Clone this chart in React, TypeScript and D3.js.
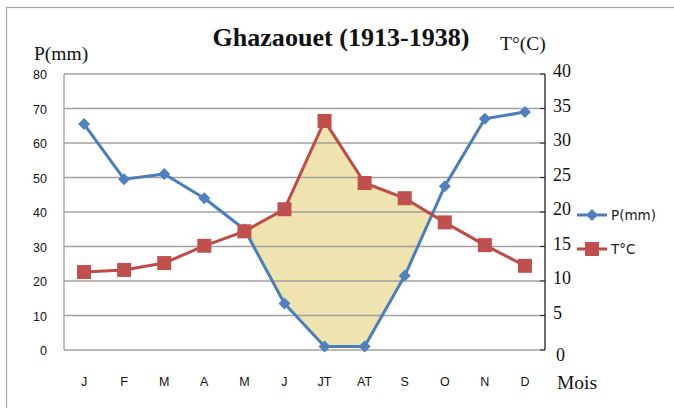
import React from "react";
import * as d3 from "d3";

const months = ["J", "F", "M", "A", "M", "J", "JT", "AT", "S", "O", "N", "D"];
const precip = [65.5, 49.5, 51, 44, 35, 13.5, 1, 1, 21.5, 47.5, 67, 69];
const temp = [11.3, 11.6, 12.6, 15.1, 17.2, 20.4, 33.2, 24.2, 22.0, 18.5, 15.2, 12.2];
const pTicks = [0, 10, 20, 30, 40, 50, 60, 70, 80];
const tTicks = [0, 5, 10, 15, 20, 25, 30, 35, 40];

const W = 674, H = 408;
const L = 64, R = 545, T = 74, B = 350;

export default function App() {
  const x = d3.scaleBand<number>().domain(d3.range(months.length)).range([L, R]);
  const cx = (i: number) => (x(i) as number) + x.bandwidth() / 2;
  const yP = d3.scaleLinear().domain([0, 80]).range([B, T]);
  const yT = d3.scaleLinear().domain([0, 40]).range([B, T]);

  // dry-period polygon where T curve (on P scale) is above P curve
  const polys: [number, number][][] = [];
  let upper: [number, number][] = [];
  let lower: [number, number][] = [];
  const diff = (i: number) => yP(precip[i]) - yT(temp[i]);
  for (let i = 0; i < months.length; i++) {
    const d = diff(i);
    if (i > 0) {
      const dp = diff(i - 1);
      if ((dp > 0) !== (d > 0)) {
        const f = dp / (dp - d);
        const xi = cx(i - 1) + f * (cx(i) - cx(i - 1));
        const yi = yT(temp[i - 1]) + f * (yT(temp[i]) - yT(temp[i - 1]));
        upper.push([xi, yi]);
        lower.push([xi, yi]);
        if (!(d > 0)) {
          polys.push([...upper, ...lower.reverse()]);
          upper = []; lower = [];
        }
      }
    }
    if (d > 0) {
      upper.push([cx(i), yT(temp[i])]);
      lower.push([cx(i), yP(precip[i])]);
    }
  }
  if (upper.length) polys.push([...upper, ...lower.reverse()]);

  const lineP = d3.line<number>().x((_, i) => cx(i)).y((d) => yP(d));
  const lineT = d3.line<number>().x((_, i) => cx(i)).y((d) => yT(d));

  const blue = "#4A7EBB", blueM = "#4F81BD";
  const red = "#BE4B48", redM = "#C0504D";
  const diamond = (px: number, py: number, r: number) =>
    `M${px},${py - r}L${px + r},${py}L${px},${py + r}L${px - r},${py}Z`;

  return (
    <div style={{ position: "absolute", left: 0, top: 0 }}>
      <svg width={W} height={H} style={{ display: "block", background: "#fff" }}>
        <rect x={6.5} y={7.5} width={700} height={420} fill="#fff" stroke="#a6a6a6" strokeWidth={1.2} />
        {polys.map((p, k) => (
          <path key={k} d={"M" + p.map((q) => q.join(",")).join("L") + "Z"} fill="#EFE3AF" />
        ))}
        {pTicks.map((t) => (
          <line key={t} x1={L} x2={R} y1={yP(t)} y2={yP(t)} stroke="#a0a0a0" strokeWidth={1.3} />
        ))}
        <line x1={L} x2={L} y1={T} y2={B} stroke="#a0a0a0" strokeWidth={1.3} />
        <line x1={R} x2={R} y1={T} y2={B} stroke="#222" strokeWidth={1.3} />
        {tTicks.map((t) => (
          <line key={t} x1={R - 5} x2={R} y1={yT(t)} y2={yT(t)} stroke="#222" strokeWidth={1} />
        ))}
        {pTicks.map((t) => (
          <text key={t} x={47} y={yP(t) + 5} textAnchor="end" fontFamily="Liberation Sans" fontSize={12.5} fill="#111">{t}</text>
        ))}
        {tTicks.map((t) => (
          <text key={t} x={t === 0 ? 556 : 553} y={yT(t) + (t === 0 ? 6 : -2) + 5} textAnchor="start" fontFamily="Liberation Serif" fontSize={18} fill="#111">{t}</text>
        ))}
        {months.map((m, i) => (
          <text key={i} x={cx(i)} y={386} textAnchor="middle" fontFamily="Liberation Sans" fontSize={12.5} fill="#111">{m}</text>
        ))}
        <text x={557} y={389} fontFamily="Liberation Serif" fontSize={19.5} fill="#111">Mois</text>
        <text x={34} y={60} fontFamily="Liberation Serif" fontSize={19.5} fill="#111">P(mm)</text>
        <text x={500} y={50} fontFamily="Liberation Serif" fontSize={19.5} fill="#111">T°(C)</text>
        <text x={341} y={46} textAnchor="middle" fontFamily="Liberation Serif" fontWeight="bold" fontSize={26} fill="#111" textLength={257} lengthAdjust="spacingAndGlyphs">Ghazaouet (1913-1938)</text>

        <path d={lineP(precip) as string} fill="none" stroke={blue} strokeWidth={3} strokeLinejoin="round" />
        {precip.map((d, i) => (
          <path key={i} d={diamond(cx(i), yP(d), 6)} fill={blueM} />
        ))}
        <path d={lineT(temp) as string} fill="none" stroke={red} strokeWidth={3} strokeLinejoin="round" />
        {temp.map((d, i) => (
          <rect key={i} x={cx(i) - 7} y={yT(d) - 7} width={14} height={14} fill={redM} />
        ))}

        <line x1={577} x2={607} y1={215} y2={215} stroke={blue} strokeWidth={3} />
        <path d={diamond(592, 215, 6)} fill={blueM} />
        <text x={611} y={220} fontFamily="DejaVu Sans" fontSize={13.5} fill="#222">P(mm)</text>
        <line x1={577} x2={607} y1={249} y2={249} stroke={red} strokeWidth={3} />
        <rect x={585} y={242} width={14} height={14} fill={redM} />
        <text x={611} y={254} fontFamily="DejaVu Sans" fontSize={13.5} fill="#222">T°C</text>
      </svg>
    </div>
  );
}
